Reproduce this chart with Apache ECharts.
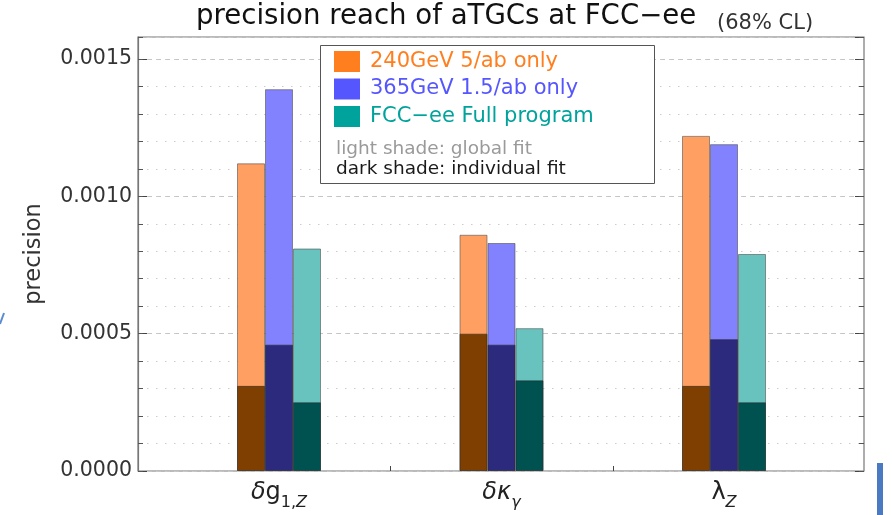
<!DOCTYPE html>
<html>
<head>
<meta charset="utf-8">
<title>precision reach of aTGCs at FCC-ee</title>
<script src="https://cdn.jsdelivr.net/npm/echarts@6/dist/echarts.min.js"></script>
<style>
html, body { margin: 0; padding: 0; background: #fff; }
#chart { width: 892px; height: 515px; }
</style>
</head>
<body>
<div id="chart"></div>
<script>
// couplings on the x axis
var categories = ["δg1,Z", "δκγ", "λZ"];
var categoryLabels = ["{i|δ}{m|g}{s|1,}{si|Z}", "{i|δκ}{si|γ}", "{m|λ}{si|Z}"];

var seriesNames = ["240GeV 5/ab only", "365GeV 1.5/ab only", "FCC−ee Full program"];

// light shade: global fit
var globalFit = [
    [0.00112, 0.00086, 0.00122],
    [0.00139, 0.00083, 0.00119],
    [0.00081, 0.00052, 0.00079]
];
// dark shade: individual fit
var individualFit = [
    [0.00031, 0.00050, 0.00031],
    [0.00046, 0.00046, 0.00048],
    [0.00025, 0.00033, 0.00025]
];

var yTickLabels = ["0.0000", "0.0005", "0.0010", "0.0015"];
var yMax = 0.00158;

var legendColors = ["#ff7f1e", "#5656ff", "#00a39c"];
var lightColors = ["#ffa062", "#8282ff", "#68c2be"];
var darkColors = ["#7f3f00", "#2c2a7c", "#005251"];

var font = "DejaVu Sans";
var chart = echarts.init(document.getElementById("chart"));

var series = [];
seriesNames.forEach(function (name, i) {
    series.push({
        name: name,
        type: "bar",
        xAxisIndex: 1,
        yAxisIndex: 4,
        barWidth: 28,
        barGap: "0%",
        data: globalFit[i],
        itemStyle: { color: lightColors[i], borderColor: "rgba(70,70,70,0.55)", borderWidth: 1 }
    });
});
seriesNames.forEach(function (name, i) {
    series.push({
        name: name + " (individual fit)",
        type: "bar",
        xAxisIndex: 2,
        yAxisIndex: 4,
        barWidth: 28,
        barGap: "0%",
        data: individualFit[i],
        itemStyle: { color: darkColors[i], borderColor: "rgba(40,40,40,0.55)", borderWidth: 1 }
    });
});

function yLabel(v) {
    var s = v.toFixed(4);
    return yTickLabels.indexOf(s) >= 0 ? s : "";
}

var option = {
    animation: false,
    textStyle: { fontFamily: font },
    title: [
        {
            text: "precision reach of aTGCs at FCC−ee",
            left: 196, top: 3, padding: 0,
            textStyle: { fontFamily: font, fontSize: 27.6, fontWeight: "normal", color: "#111" }
        },
        {
            text: "(68% CL)",
            left: 717, top: 13, padding: 0,
            textStyle: { fontFamily: font, fontSize: 21, fontWeight: "normal", color: "#333" }
        }
    ],
    grid: [
        { left: 138, right: 28, top: 37, bottom: 44, show: true, borderColor: "#777", borderWidth: 1.2, backgroundColor: "#fff" },
        { left: 167.75, right: 56.75, top: 37, bottom: 44 }
    ],
    legend: {
        orient: "vertical",
        left: 334, top: 51, padding: 0,
        itemWidth: 26, itemHeight: 21, itemGap: 6.5,
        icon: "rect",
        selectedMode: false,
        z: 6,
        data: seriesNames.map(function (n, i) {
            return {
                name: n,
                itemStyle: { color: legendColors[i], borderWidth: 0 },
                textStyle: { color: legendColors[i], fontSize: 21, fontFamily: font, padding: [0, 0, 0, 5] }
            };
        })
    },
    xAxis: [
        {
            gridIndex: 0, type: "value", min: -1.1337, max: 2.129,
            axisLine: { show: false, onZero: false },
            axisTick: { show: true, inside: true, length: 5, lineStyle: { color: "#444" }, customValues: [0, 1] },
            axisLabel: { show: false },
            splitLine: { show: false }
        },
        {
            gridIndex: 1, type: "category", data: categories,
            axisLine: { show: false, onZero: false },
            axisTick: { show: false },
            axisLabel: {
                margin: 10,
                formatter: function (v, idx) { return categoryLabels[idx]; },
                rich: {
                    i: { fontFamily: font, fontSize: 24, fontStyle: "italic", color: "#222", lineHeight: 30, verticalAlign: "top" },
                    m: { fontFamily: font, fontSize: 24, color: "#222", lineHeight: 30, verticalAlign: "top" },
                    s: { fontFamily: font, fontSize: 16, color: "#222", lineHeight: 12, verticalAlign: "bottom" },
                    si: { fontFamily: font, fontSize: 16, fontStyle: "italic", color: "#222", lineHeight: 12, verticalAlign: "bottom" }
                }
            }
        },
        { gridIndex: 1, type: "category", data: categories, show: false }
    ],
    yAxis: [
        {
            gridIndex: 0, type: "value", min: 0, max: yMax, interval: 0.0005, position: "left",
            name: "precision", nameLocation: "middle", nameGap: 92,
            nameTextStyle: { fontFamily: font, fontSize: 22.5, color: "#333" },
            axisLine: { show: true, onZero: false, lineStyle: { color: "#777", width: 1.2 } },
            axisTick: { show: true, inside: true, length: 9, lineStyle: { color: "#444" } },
            axisLabel: { formatter: yLabel, fontSize: 20.5, color: "#333", margin: 6, showMaxLabel: false },
            splitLine: { show: true, lineStyle: { color: "#c4c4c4", type: [5, 4], width: 1 } }
        },
        {
            gridIndex: 0, type: "value", min: 0, max: yMax, interval: 0.0001, position: "left",
            axisLine: { show: false, onZero: false },
            axisTick: { show: true, inside: true, length: 5, lineStyle: { color: "#555" } },
            axisLabel: { show: false },
            splitLine: { show: true, lineStyle: { color: "#cccccc", type: [1.5, 7.5], width: 1.2 } }
        },
        {
            gridIndex: 0, type: "value", min: 0, max: yMax, interval: 0.0005, position: "right",
            axisLine: { show: false, onZero: false },
            axisTick: { show: true, inside: true, length: 9, lineStyle: { color: "#444" } },
            axisLabel: { show: false },
            splitLine: { show: false }
        },
        {
            gridIndex: 0, type: "value", min: 0, max: yMax, interval: 0.0001, position: "right",
            axisLine: { show: false, onZero: false },
            axisTick: { show: true, inside: true, length: 5, lineStyle: { color: "#555" } },
            axisLabel: { show: false },
            splitLine: { show: false }
        },
        { gridIndex: 1, type: "value", min: 0, max: yMax, show: false }
    ],
    graphic: [
        {
            type: "rect", z: 5,
            shape: { x: 320.5, y: 45.5, width: 334, height: 138 },
            style: { fill: "#fff", stroke: "#555", lineWidth: 1 }
        },
        {
            type: "text", z: 6, left: 336, top: 140,
            style: { text: "light shade: global fit", fill: "#9a9a9a", font: "18.5px 'DejaVu Sans'" }
        },
        {
            type: "text", z: 6, left: 336, top: 160,
            style: { text: "dark shade: individual fit", fill: "#1a1a1a", font: "18.5px 'DejaVu Sans'" }
        },
        {
            type: "rect", z: 6,
            shape: { x: 877, y: 463, width: 6, height: 52 },
            style: { fill: "#4a7bc2" }
        },
        {
            type: "line", z: 6,
            shape: { x1: 0, y1: 324, x2: 4, y2: 313 },
            style: { stroke: "#5b8bd0", lineWidth: 2 }
        }
    ],
    series: series
};

chart.setOption(option);
window.addEventListener("resize", function () { chart.resize(); });
</script>
</body>
</html>
